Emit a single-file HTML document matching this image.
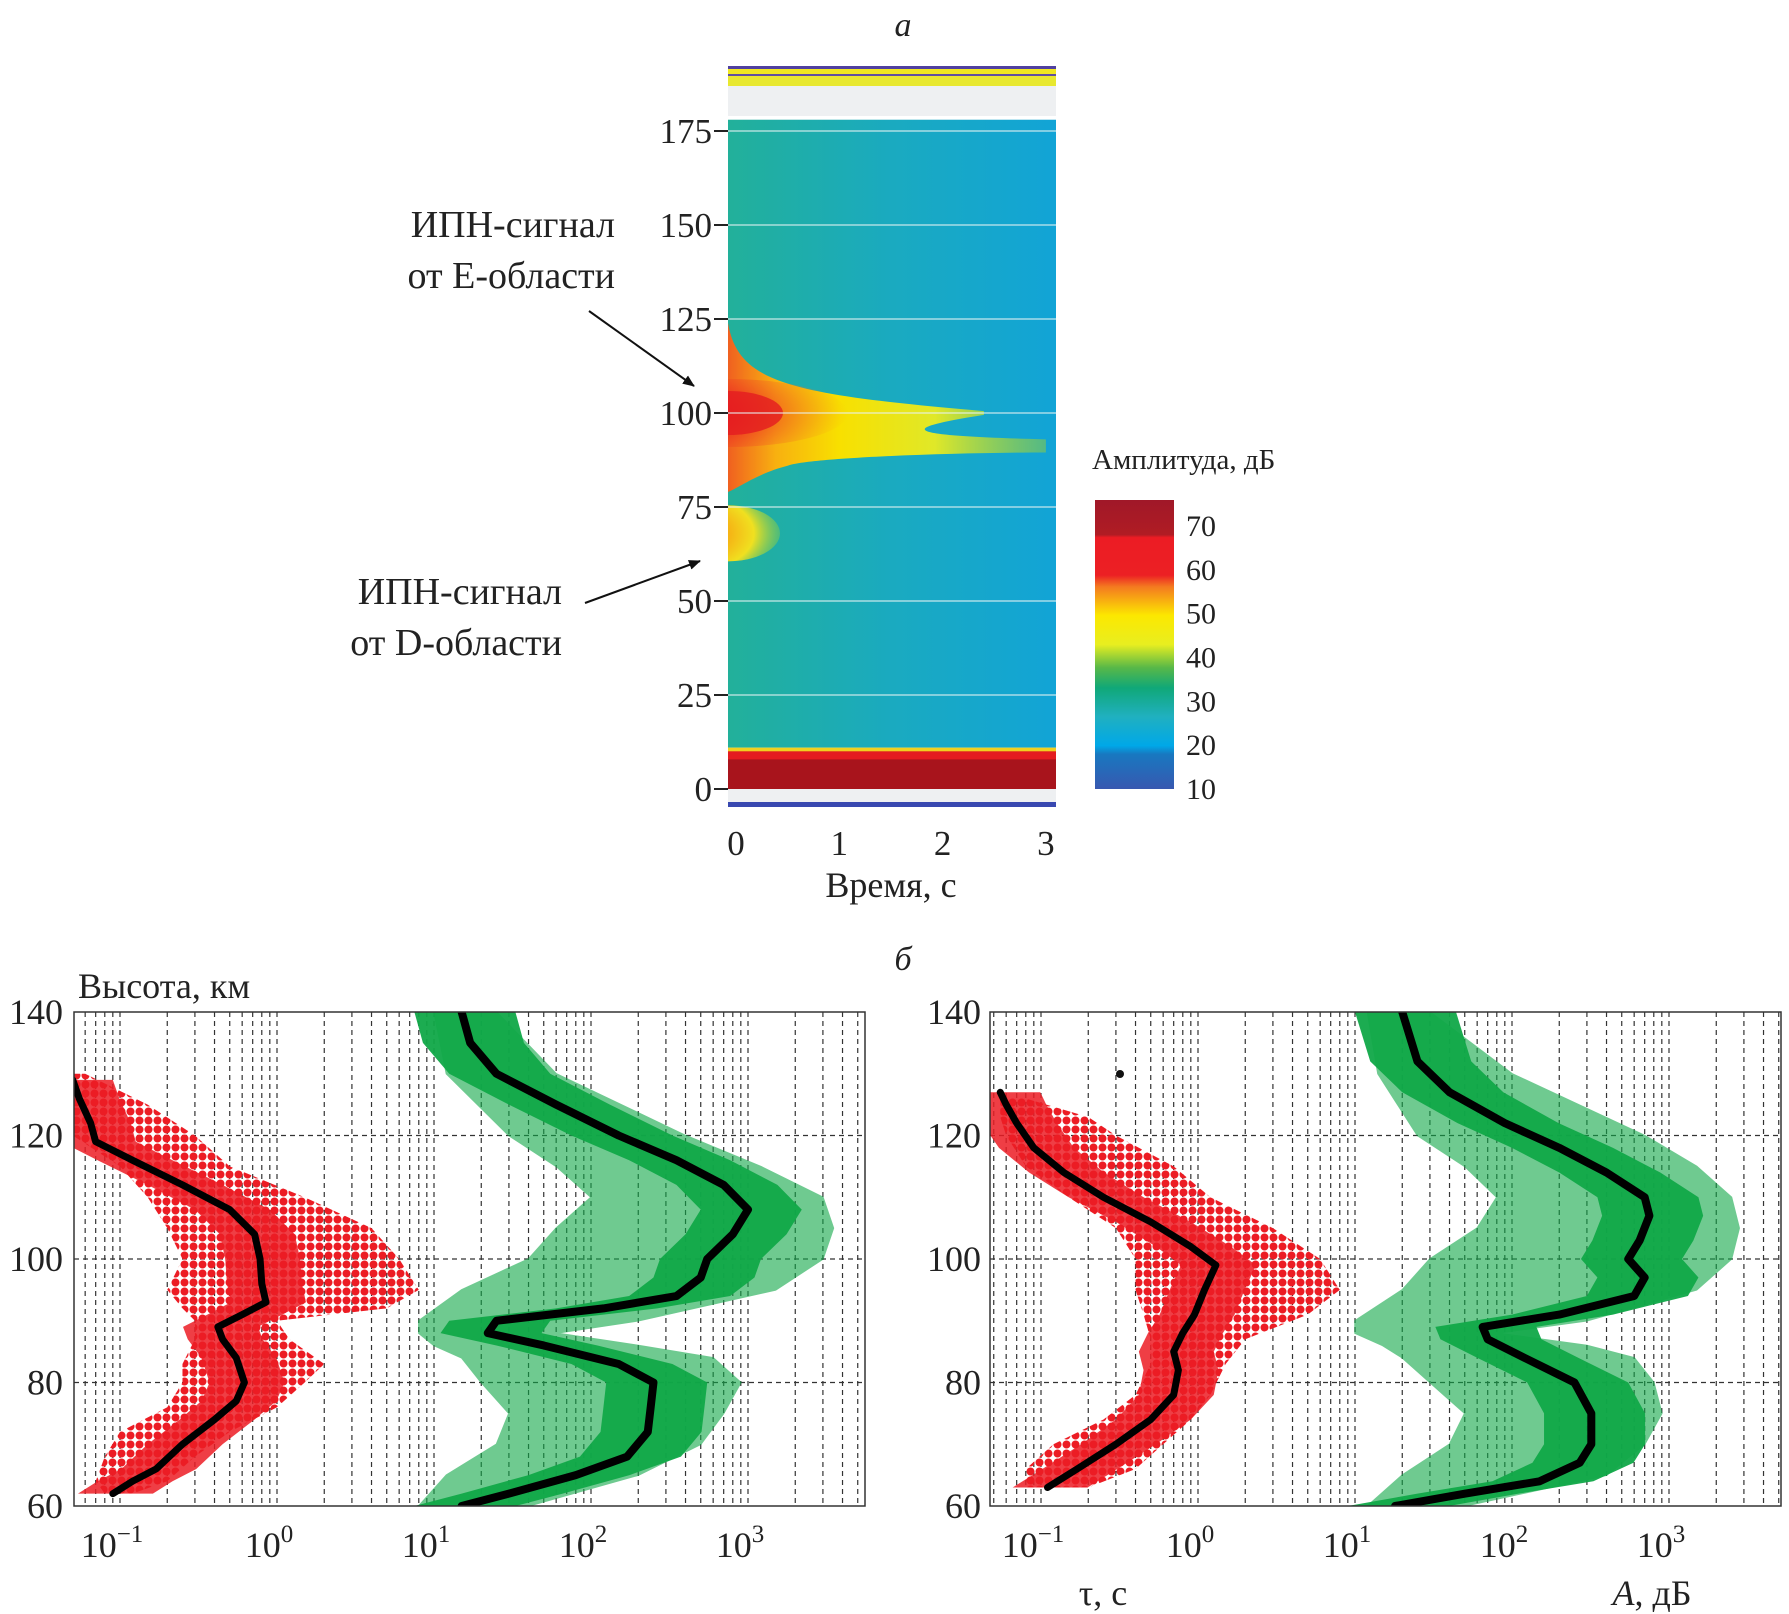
<!DOCTYPE html>
<html><head><meta charset="utf-8"><style>
html,body{margin:0;padding:0;background:#fff;}
svg{display:block;font-family:"Liberation Serif",serif;}
</style></head><body>
<svg id="fig" width="1789" height="1614" viewBox="0 0 1789 1614" xmlns="http://www.w3.org/2000/svg">
<defs>
<linearGradient id="bg" x1="0" x2="1" y1="0" y2="0"><stop offset="0" stop-color="#22b09a"/><stop offset="0.5" stop-color="#1aaac0"/><stop offset="1" stop-color="#12a4d6"/></linearGradient>
<linearGradient id="cbar" x1="0" x2="0" y1="0" y2="1">
<stop offset="0" stop-color="#a01828"/><stop offset="0.12" stop-color="#b01c24"/><stop offset="0.13" stop-color="#ec1c24"/><stop offset="0.26" stop-color="#ec2024"/><stop offset="0.3" stop-color="#f47a20"/><stop offset="0.4" stop-color="#fce800"/><stop offset="0.5" stop-color="#e8ee20"/><stop offset="0.58" stop-color="#58b848"/><stop offset="0.65" stop-color="#10a878"/><stop offset="0.75" stop-color="#20b0c0"/><stop offset="0.85" stop-color="#00a8e8"/><stop offset="0.88" stop-color="#1878c0"/><stop offset="1" stop-color="#3858b0"/></linearGradient>
<linearGradient id="eSig" x1="0" x2="1" y1="0" y2="0"><stop offset="0" stop-color="#f06020"/><stop offset="0.15" stop-color="#f8b010"/><stop offset="0.35" stop-color="#f8e000"/><stop offset="0.65" stop-color="#e0e828"/><stop offset="1" stop-color="#80c850" stop-opacity="0.6"/></linearGradient>
<radialGradient id="eCore" cx="0" cy="0.5" r="1"><stop offset="0" stop-color="#e01820"/><stop offset="0.5" stop-color="#ec2a20"/><stop offset="1" stop-color="#f48020" stop-opacity="0"/></radialGradient>
<radialGradient id="dSig" cx="0" cy="0.5" r="1"><stop offset="0" stop-color="#f04020"/><stop offset="0.4" stop-color="#f8a010"/><stop offset="0.75" stop-color="#f0e020"/><stop offset="1" stop-color="#90d040" stop-opacity="0.4"/></radialGradient>
<pattern id="dots" width="9" height="9" patternUnits="userSpaceOnUse"><circle cx="4.5" cy="4.5" r="4" fill="#ec1c24"/></pattern>
<marker id="arr" markerWidth="12" markerHeight="10" refX="11" refY="5" orient="auto" markerUnits="userSpaceOnUse"><path d="M0,0 L12,5 L0,10 Z" fill="#111"/></marker>
<clipPath id="hmclip"><rect x="728" y="60" width="328" height="760"/></clipPath>
</defs>
<g id="top"></g>
<g id="left"></g>
<g id="right"></g>
</svg>
<script>
// ---- data ----
const heightTicks = [0,25,50,75,100,125,150,175];
const timeTicks = [0,1,2,3];
const cbarTicks = [70,60,50,40,30,20,10];
const profTicks = [60,80,100,120,140];
const decades = [-1,0,1,2,3];
// left panel
const tauLH = [62,64,66,70,74,77,80,84,87,89,91,93,96,100,104,108,112,116,119,122,126,129];
const tauLV = [0.09,0.12,0.17,0.25,0.4,0.55,0.62,0.55,0.45,0.42,0.6,0.85,0.8,0.78,0.72,0.5,0.25,0.12,0.07,0.065,0.055,0.05];
const ampLH = [60,62,65,68,72,76,80,83,86,88,90,92,94,97,100,104,108,112,116,120,125,130,135,140];
const ampLV = [15,30,80,170,230,240,250,150,50,22,25,120,350,500,550,800,1000,700,350,150,60,25,17,15];
const envAH = [60,65,70,75,80,84,86,88,90,95,100,105,110,115,120,130,140];
const envALmin = [8,12,25,30,20,15,10,8,8,15,40,60,100,60,30,12,10];
const envALmax = [40,200,500,700,900,600,200,60,200,1500,3000,3500,3000,1200,400,60,25];
const envTLH = [62,64,68,72,76,80,83,87,90,92,95,100,105,110,115,120,125,130];
const envTLmin = [0.08,0.07,0.08,0.1,0.2,0.25,0.25,0.3,0.3,0.25,0.2,0.25,0.2,0.15,0.1,0.05,0.05,0.05];
const envTLmax = [0.12,0.2,0.3,0.5,1,1.5,2,1.2,1,5,8,6,4,1.5,0.5,0.3,0.15,0.06];
// right panel
const tauRH = [63,66,70,74,78,82,85,88,91,95,99,102,106,110,114,118,122,125,127];
const tauRV = [0.11,0.17,0.3,0.5,0.7,0.75,0.7,0.8,0.95,1.1,1.3,0.9,0.5,0.25,0.14,0.09,0.07,0.06,0.055];
const ampRH = [60,62,64,67,70,75,80,84,87,89,91,94,97,100,103,107,110,114,118,122,127,132,140];
const ampRV = [18,50,150,270,320,320,250,120,70,65,200,600,700,550,650,750,700,400,200,90,40,25,20];
const envRmin = [12,20,40,50,30,20,15,10,10,20,30,60,80,50,25,14,12];
const envRmax = [50,400,700,900,800,600,300,80,300,1500,2500,2800,2500,1500,700,100,30];
const envTRH = [63,66,70,74,78,83,87,91,95,100,105,110,115,120,123,126];
const envTRmin = [0.08,0.08,0.12,0.25,0.4,0.5,0.5,0.45,0.4,0.4,0.3,0.15,0.08,0.06,0.055,0.055];
const envTRmax = [0.2,0.4,0.6,0.9,1.2,1.5,2,5,8,6,3,1.2,0.7,0.3,0.2,0.08];

const NS="http://www.w3.org/2000/svg";
function el(parent,tag,attrs,text){const e=document.createElementNS(NS,tag);for(const k in attrs)e.setAttribute(k,attrs[k]);if(text!==undefined)e.textContent=text;parent.appendChild(e);return e;}

// ---- top spectrogram ----
const T=document.getElementById('top');
const hx0=728,hx1=1056;
const yTop=km=>789-km*3.76;
const xTop=t=>736+t*103.3;
let e;
const H=el(T,'g',{'clip-path':'url(#hmclip)'});
e=el(H,'rect',{x:hx0,y:66,width:hx1-hx0,height:3,fill:'#5040a0'});

el(H,'rect',{x:hx0,y:69,width:hx1-hx0,height:5,fill:'#f0e820'});
el(H,'rect',{x:hx0,y:74,width:hx1-hx0,height:2,fill:'#6050a0'});
el(H,'rect',{x:hx0,y:76,width:hx1-hx0,height:10,fill:'#e8e830'});
el(H,'rect',{x:hx0,y:86,width:hx1-hx0,height:30,fill:'#eef0f2'});
e=el(H,'rect',{x:hx0,y:yTop(178),width:hx1-hx0,height:yTop(11)-yTop(178),fill:'url(#bg)'});

// E-signal
e=el(H,'path',{d:`M${hx0},${yTop(124)} C${hx0+10},${yTop(108)} ${hx0+60},${yTop(105)} ${xTop(2.4)},${yTop(100.5)} L${xTop(2.4)},${yTop(99.5)} C${xTop(1.6)},${yTop(96)} ${xTop(1.5)},${yTop(94)} ${xTop(3)},${yTop(93)} L${xTop(3)},${yTop(89.5)} C${xTop(2)},${yTop(89.5)} ${xTop(0.7)},${yTop(88)} ${hx0+60},${yTop(86)} C${hx0+30},${yTop(84)} ${hx0+10},${yTop(80)} ${hx0},${yTop(79)} Z`,fill:'url(#eSig)'});

el(H,'ellipse',{cx:hx0,cy:yTop(100),rx:120,ry:34,fill:'url(#eCore)'});
el(H,'ellipse',{cx:hx0,cy:yTop(100),rx:55,ry:22,fill:'#e41c20',opacity:0.8});
// D-signal
e=el(H,'ellipse',{cx:hx0,cy:yTop(68),rx:52,ry:28,fill:'url(#dSig)'});

// grid lines (white)
heightTicks.forEach(h=>{if(h>0&&h<178)el(H,'line',{x1:hx0,x2:hx1,y1:yTop(h),y2:yTop(h),stroke:'#e8f4f4','stroke-width':1.5,opacity:0.7});});
// bottom red band
e=el(H,'rect',{x:hx0,y:yTop(11),width:hx1-hx0,height:4,fill:'#f0d020'});

el(H,'rect',{x:hx0,y:yTop(10),width:hx1-hx0,height:yTop(0)-yTop(10),fill:'#a8141c'});
el(H,'rect',{x:hx0,y:yTop(10),width:hx1-hx0,height:8,fill:'#e41c20'});
el(H,'rect',{x:hx0,y:yTop(0),width:hx1-hx0,height:13,fill:'#eef0f2'});
el(H,'rect',{x:hx0,y:yTop(0)+13,width:hx1-hx0,height:5,fill:'#3848b0'});
// axis ticks
heightTicks.forEach(h=>{
  el(T,'line',{x1:hx0-14,x2:hx0,y1:yTop(h),y2:yTop(h),stroke:'#222','stroke-width':2});
  const t=el(T,'text',{x:hx0-16,y:yTop(h)+12,'font-size':35,'text-anchor':'end',fill:'#222'},String(h));
  
});
timeTicks.forEach(s=>{
  const t=el(T,'text',{x:xTop(s),y:855,'font-size':35,'text-anchor':'middle',fill:'#222'},String(s));
  
});
e=el(T,'text',{x:891,y:897,'font-size':36,'text-anchor':'middle',fill:'#222'},'Время, с');

e=el(T,'text',{x:903,y:36,'font-size':34,'text-anchor':'middle','font-style':'italic',fill:'#222'},'а');

// colorbar
e=el(T,'rect',{x:1095,y:500,width:79,height:289,fill:'url(#cbar)'});

const cbY=v=>789-(v-10)*((789-526)/60);
cbarTicks.forEach(v=>{
  const t=el(T,'text',{x:1186,y:cbY(v)+10,'font-size':30,fill:'#222'},String(v));
  
});
e=el(T,'text',{x:1092,y:469,'font-size':29,fill:'#222'},'Амплитуда, дБ');

// annotations
const ann=[["ИПН-сигнал",615,237],["от Е-области",615,288],["ИПН-сигнал",562,604],["от D-области",562,655]];
ann.forEach(a=>{const t=el(T,'text',{x:a[1],y:a[2],'font-size':38,'text-anchor':'end',fill:'#222'},a[0]);
});
e=el(T,'line',{x1:589,y1:311,x2:694,y2:386,stroke:'#111','stroke-width':2,'marker-end':'url(#arr)'});

e=el(T,'line',{x1:585,y1:603,x2:700,y2:561,stroke:'#111','stroke-width':2,'marker-end':'url(#arr)'});

e=el(T,'text',{x:903,y:970,'font-size':34,'text-anchor':'middle','font-style':'italic',fill:'#222'},'б');


// ---- profile panels ----
function panel(G,bx0,bx1,x0dec,yLabX,tH,tV,aH,aV,eAH,eAmin,eAmax,eTH,eTmin,eTmax){
  const by0=1012,by1=1506;
  const yB=km=>by1-(km-60)*(by1-by0)/80;
  const xB=v=>x0dec+Math.log10(v)*157;
  const cp=el(G,'clipPath',{id:'cp'+bx0});el(cp,'rect',{x:bx0,y:by0,width:bx1-bx0,height:by1-by0});
  const gg=el(G,'g',{'clip-path':`url(#cp${bx0})`});
  for(let d=-2;d<=3;d++)for(let m=1;m<=9;m++){const x=xB(m*Math.pow(10,d));if(x>bx0&&x<bx1)el(gg,'line',{x1:x,x2:x,y1:by0,y2:by1,stroke:'#333','stroke-width':1.2,'stroke-dasharray':'5,4'});}
  [80,100,120].forEach(h=>el(gg,'line',{x1:bx0,x2:bx1,y1:yB(h),y2:yB(h),stroke:'#333','stroke-width':1.2,'stroke-dasharray':'5,4'}));
  let pts=eAH.map((h,i)=>`${xB(eAmin[i])},${yB(h)}`).concat(eAH.map((h,i)=>`${xB(eAmax[i])},${yB(h)}`).reverse());
  let p=el(gg,'polygon',{points:pts.join(' '),fill:'#10a848',opacity:0.6,stroke:'#10a848','stroke-width':1.5});
  
  let core=aH.map((h,i)=>`${xB(aV[i]*0.5)},${yB(h)}`).concat(aH.map((h,i)=>`${xB(aV[i]*2.2)},${yB(h)}`).reverse());
  el(gg,'polygon',{points:core.join(' '),fill:'#10a848',opacity:0.95});
  let rp=eTH.map((h,i)=>`${xB(eTmin[i])},${yB(h)}`).concat(eTH.map((h,i)=>`${xB(eTmax[i])},${yB(h)}`).reverse());
  p=el(gg,'polygon',{points:rp.join(' '),fill:'url(#dots)'});
  
  let rc=tH.map((h,i)=>`${xB(tV[i]*0.6)},${yB(h)}`).concat(tH.map((h,i)=>`${xB(tV[i]*1.8)},${yB(h)}`).reverse());
  el(gg,'polygon',{points:rc.join(' '),fill:'#ec1c24',opacity:0.85});
  p=el(gg,'polyline',{points:aH.map((h,i)=>`${xB(aV[i])},${yB(h)}`).join(' '),fill:'none',stroke:'#000','stroke-width':8,'stroke-linejoin':'round','stroke-linecap':'round'});
  
  p=el(gg,'polyline',{points:tH.map((h,i)=>`${xB(tV[i])},${yB(h)}`).join(' '),fill:'none',stroke:'#000','stroke-width':7,'stroke-linejoin':'round','stroke-linecap':'round'});
  
  p=el(G,'rect',{x:bx0,y:by0,width:bx1-bx0,height:by1-by0,fill:'none',stroke:'#333','stroke-width':1.5});
  
  profTicks.forEach(h=>{const t=el(G,'text',{x:yLabX,y:yB(h)+12,'font-size':36,'text-anchor':'end',fill:'#222'},String(h));
    });
  decades.forEach(d=>{const t=el(G,'text',{x:xB(Math.pow(10,d))-8,y:1557,'font-size':36,'text-anchor':'middle',fill:'#222'});
    
    t.appendChild(document.createTextNode('10'));el(t,'tspan',{dy:-15,'font-size':25},d<0?'−'+(-d):String(d));});
}
panel(document.getElementById('left'),74,865,277,63,tauLH,tauLV,ampLH,ampLV,envAH,envALmin,envALmax,envTLH,envTLmin,envTLmax);
panel(document.getElementById('right'),990,1781,1198,981,tauRH,tauRV,ampRH,ampRV,envAH,envRmin,envRmax,envTRH,envTRmin,envTRmax);
const L=document.getElementById('left'),R=document.getElementById('right');
e=el(L,'text',{x:78,y:998,'font-size':36,fill:'#222'},'Высота, км');

e=el(R,'text',{x:1103,y:1605,'font-size':36,'text-anchor':'middle',fill:'#222'},'τ, с');

e=el(R,'text',{x:1652,y:1605,'font-size':36,'text-anchor':'middle',fill:'#222'});

el(e,'tspan',{'font-style':'italic'},'A');e.appendChild(document.createTextNode(', дБ'));
el(R,'circle',{cx:1120,cy:1074,r:4,fill:'#111'});
</script>
</body></html>
